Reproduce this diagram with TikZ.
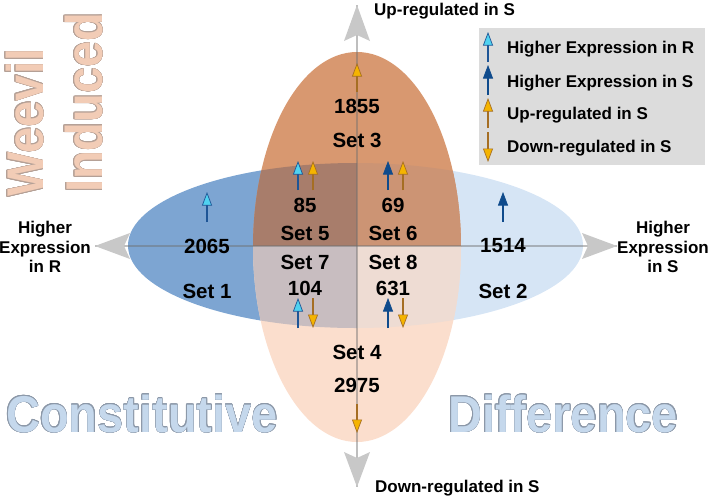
\documentclass[tikz,border=0pt]{standalone}
\usepackage{fontspec}
\setmainfont{Liberation Sans}
\usepackage{graphicx}
\usepackage{contour}
\usetikzlibrary{arrows.meta}
\definecolor{orgtop}{RGB}{216,152,112}
\definecolor{orgbot}{RGB}{251,222,205}
\definecolor{bluL}{RGB}{125,165,210}
\definecolor{bluR}{RGB}{214,229,245}
\definecolor{ovA}{RGB}{168,125,107}
\definecolor{ovB}{RGB}{204,148,116}
\definecolor{ovC}{RGB}{200,189,192}
\definecolor{ovD}{RGB}{238,220,211}
\definecolor{axgray}{RGB}{110,110,110}
\definecolor{headgray}{RGB}{200,200,200}
\definecolor{leggray}{RGB}{220,220,220}
\definecolor{rline}{RGB}{30,85,150}
\definecolor{rhead}{RGB}{80,210,240}
\definecolor{sblue}{RGB}{15,75,140}
\definecolor{oline}{RGB}{165,110,35}
\definecolor{ohead}{RGB}{245,180,0}
\definecolor{wmblue}{RGB}{197,216,236}
\definecolor{wmblueln}{RGB}{140,152,168}
\definecolor{wmpeach}{RGB}{242,204,182}
\definecolor{wmpeachln}{RGB}{180,160,150}
\contourlength{0.4pt}
\tikzset{
  lbl/.style={font=\fontsize{17}{19.5}\selectfont\bfseries, inner sep=0pt, text=black},
  num/.style={font=\fontsize{20.5}{24}\selectfont\bfseries, inner sep=0pt, text=black},
  wm/.style={font=\fontsize{47}{50}\selectfont\bfseries, inner sep=0pt},
  axisline/.style={line width=2.5pt, draw=axgray, draw opacity=0.45},
  axhead/.style={fill=headgray},
  arrR/.style={draw=rline, line width=1.2pt, -{Triangle[length=13.5pt,width=10pt,fill=rhead,line width=0.7pt]}},
  arrS/.style={draw=sblue, line width=1.2pt, -{Triangle[length=13.5pt,width=10pt,fill=sblue,line width=0.7pt]}},
  arrO/.style={draw=oline, line width=1.2pt, -{Triangle[length=13.5pt,width=10pt,fill=ohead,line width=0.7pt]}}
}
\begin{document}
\begin{tikzpicture}[x=1pt,y=-1pt]
\useasboundingbox (0,0) rectangle (709,496);
% horizontal ellipse halves
\begin{scope}
  \clip (0,0) rectangle (357,496);
  \fill[bluL] (355.5,245.5) ellipse [x radius=227.5pt, y radius=82.5pt];
\end{scope}
\begin{scope}
  \clip (357,0) rectangle (709,496);
  \fill[bluR] (355.5,245.5) ellipse [x radius=227.5pt, y radius=82.5pt];
\end{scope}
% vertical ellipse halves
\begin{scope}
  \clip (0,0) rectangle (709,246);
  \fill[orgtop] (357,247) ellipse [x radius=104pt, y radius=195pt];
\end{scope}
\begin{scope}
  \clip (0,246) rectangle (709,496);
  \fill[orgbot] (357,247) ellipse [x radius=104pt, y radius=195pt];
\end{scope}
% overlaps
\begin{scope}
  \clip (357,247) ellipse [x radius=104pt, y radius=195pt];
  \clip (355.5,245.5) ellipse [x radius=227.5pt, y radius=82.5pt];
  \fill[ovA] (0,0) rectangle (357,246);
  \fill[ovB] (357,0) rectangle (709,246);
  \fill[ovC] (0,246) rectangle (357,496);
  \fill[ovD] (357,246) rectangle (709,496);
\end{scope}
% watermark texts
\node[wm, text=wmblue, anchor=base west] (cons) at (6,432) {\scalebox{1}[1.1]{\contour{wmblueln}{Constitutive}}};
\node[wm, text=wmblue, anchor=base west] (diff) at (448,432) {\scalebox{1}[1.1]{\contour{wmblueln}{Difference}}};
\node[wm, text=wmpeach, anchor=base west, rotate=90] (weev) at (43,197) {\scalebox{1}[1.1]{\contour{wmpeachln}{Weevil}}};
\node[wm, text=wmpeach, anchor=base west, rotate=90] (ind) at (102,193) {\scalebox{1}[1.1]{\contour{wmpeachln}{Induced}}};
% axes
\coordinate (Ltip) at (95,246);
\coordinate (Rtip) at (617,246);
\coordinate (Ttip) at (357,5);
\coordinate (Btip) at (357,487);
\draw[axisline] (Ltip) -- (Rtip);
\draw[axisline] (Ttip) -- (Btip);
\fill[axhead] (Ltip) -- (130,233) -- (124,246) -- (130,259) -- cycle;
\fill[axhead] (Rtip) -- (582,233) -- (588,246) -- (582,259) -- cycle;
\fill[axhead] (Ttip) -- (344,41) -- (357,35) -- (370,41) -- cycle;
\fill[axhead] (Btip) -- (344,452) -- (357,458) -- (370,452) -- cycle;
% axis labels
\node[lbl, align=center] (lblR) at (45,247) {Higher\\Expression\\in R};
\node[lbl, align=center] (lblS) at (663,247) {Higher\\Expression\\in S};
\node[lbl, anchor=base west] (lblUp) at (374,15) {Up-regulated in S};
\node[lbl, anchor=base west] (lblDn) at (375,492) {Down-regulated in S};
% small arrows
\draw[arrO] (357,92) -- (357,63);
\draw[arrR] (207,222) -- (207,192);
\draw[arrS] (503,222) -- (503,192);
\draw[arrR] (298,190) -- (298,161);
\draw[arrO] (313,190) -- (313,161);
\draw[arrS] (388,190) -- (388,161);
\draw[arrO] (403,190) -- (403,161);
\draw[arrR] (298,328) -- (298,298);
\draw[arrO] (313,298) -- (313,328);
\draw[arrS] (388,328) -- (388,298);
\draw[arrO] (403,298) -- (403,328);
\draw[arrO] (357,404) -- (357,433);
% numbers and set names
\node[num] (n3) at (357,106) {1855};
\node[num] (s3) at (357,140) {Set 3};
\node[num] (n5) at (305,205) {85};
\node[num] (s5) at (305,233) {Set 5};
\node[num] (n6) at (393,205) {69};
\node[num] (s6) at (393,233) {Set 6};
\node[num] (s7) at (305,262) {Set 7};
\node[num] (n7) at (305,288) {104};
\node[num] (s8) at (393,262) {Set 8};
\node[num] (n8) at (393,288) {631};
\node[num] (n1) at (207,246) {2065};
\node[num] (s1) at (207,291) {Set 1};
\node[num] (n2) at (503,246) {1514};
\node[num] (s2) at (503,291) {Set 2};
\node[num] (s4) at (357,352) {Set 4};
\node[num] (n4) at (357,385) {2975};
% legend
\fill[leggray] (479,28) rectangle (705,165);
\draw[arrR] (488,62) -- (488,32);
\draw[arrS] (488,95) -- (488,65);
\draw[arrO] (488,128) -- (488,98);
\draw[arrO] (488,132) -- (488,162);
\node[lbl, anchor=base west] (leg1) at (507,53) {Higher Expression in R};
\node[lbl, anchor=base west] (leg2) at (507,87) {Higher Expression in S};
\node[lbl, anchor=base west] (leg3) at (507,119) {Up-regulated in S};
\node[lbl, anchor=base west] (leg4) at (507,152) {Down-regulated in S};
\end{tikzpicture}
\end{document}
